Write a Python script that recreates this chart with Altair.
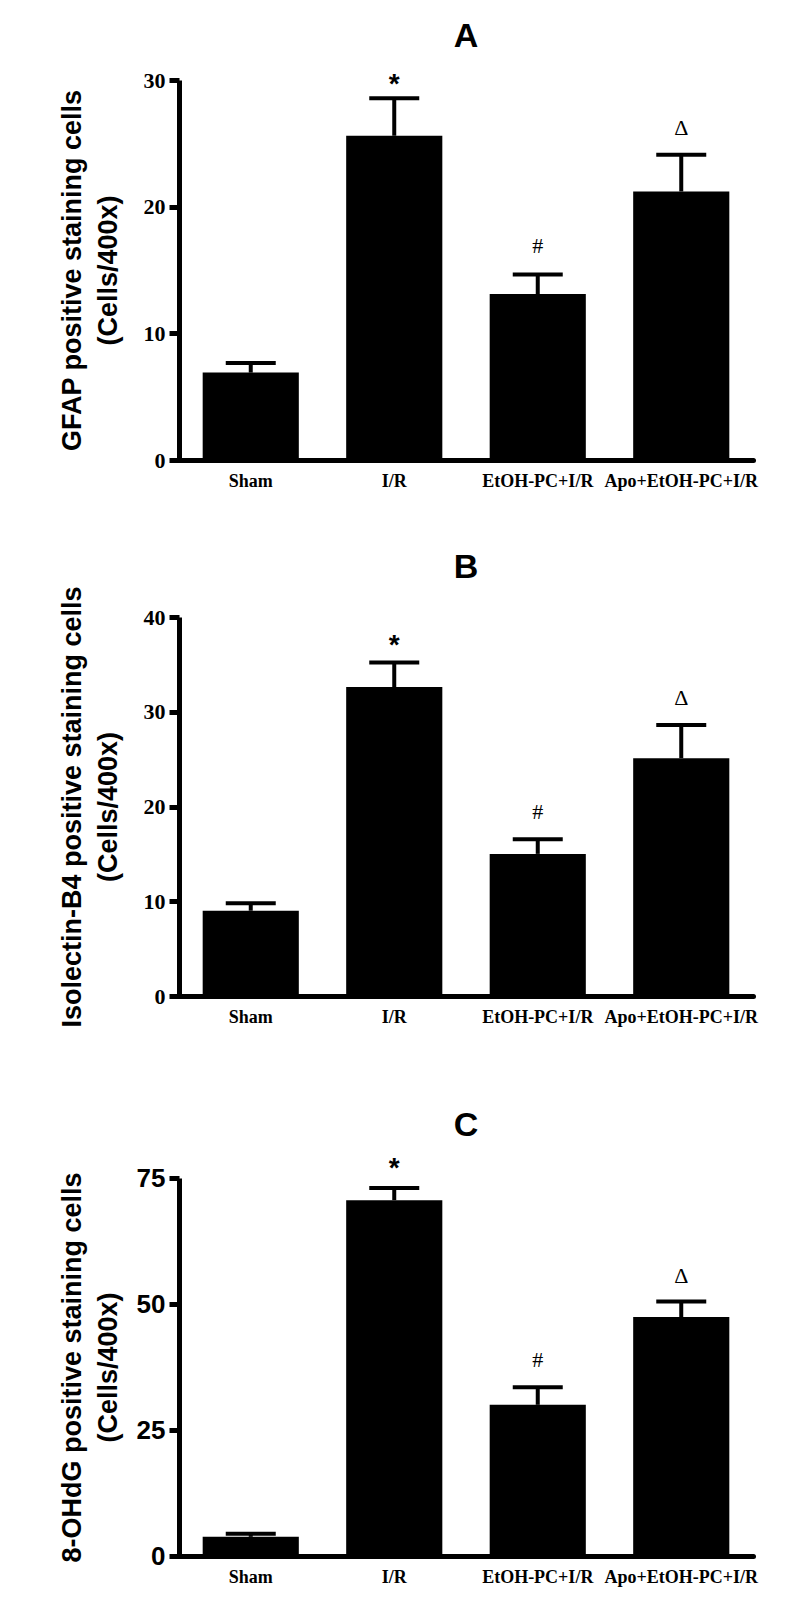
import altair as alt
import pandas as pd

groups = ["Sham", "I/R", "EtOH-PC+I/R", "Apo+EtOH-PC+I/R"]
marks = ["", "*", "#", "Δ"]

a_mean = [6.9, 25.6, 13.1, 21.2]
a_sem = [0.75, 2.95, 1.55, 2.9]
a_mark_y = [None, 29.9, 16.9, 26.2]
a_ticks = [0, 10, 20, 30]

b_mean = [9.0, 32.6, 15.0, 25.1]
b_sem = [0.8, 2.6, 1.55, 3.5]
b_mark_y = [None, 37.4, 19.4, 31.5]
b_ticks = [0, 10, 20, 30, 40]

c_mean = [3.8, 70.6, 30.0, 47.4]
c_sem = [0.6, 2.4, 3.5, 3.1]
c_mark_y = [None, 77.6, 38.9, 55.6]
c_ticks = [0, 25, 50, 75]

SANS = "Liberation Sans"
SERIF = "Liberation Serif"


def panel(letter, mean, sem, mark_y, ticks, ymax, ytitle, tick_font, tick_size,
          title_offset, height):
    df = pd.DataFrame({
        "group": groups,
        "mean": mean,
        "top": [m + s for m, s in zip(mean, sem)],
        "mark": marks,
        "mark_y": mark_y,
    })
    x = alt.X("group:N", sort=groups,
              scale=alt.Scale(paddingInner=0.33, paddingOuter=0.165),
              axis=alt.Axis(title=None, labelAngle=0, ticks=False, tickSize=0,
                            labelPadding=12, labelFont=SERIF, labelFontWeight="bold",
                            labelFontSize=18, labelColor="black", domainColor="black",
                            domainWidth=5, domainCap="round", labelOverlap=False,
                            labelLimit=400))
    yscale = alt.Scale(domain=[0, ymax], nice=False, zero=True)
    yaxis = alt.Axis(values=ticks, title=ytitle, grid=False, domainColor="black",
                     domainWidth=5, tickColor="black", tickWidth=5, tickSize=10,
                     labelFont=tick_font, labelFontWeight="bold", labelFontSize=tick_size,
                     labelColor="black", labelPadding=4,
                     titleFont=SANS, titleFontWeight="bold", titleFontSize=27,
                     titleColor="black", titleLineHeight=36, titleBaseline="alphabetic",
                     titleAngle=270, titleAlign="center", titleX=-99, titleY=height / 2)
    base = alt.Chart(df)
    bars = base.mark_bar(color="black").encode(
        x=x, y=alt.Y("mean:Q", scale=yscale, axis=yaxis))
    err = base.mark_rule(color="black", strokeWidth=4).encode(
        x=alt.X("group:N", sort=groups), y="mean:Q", y2="top:Q")
    cap = base.mark_tick(color="black", thickness=4, size=50, opacity=1).encode(
        x=alt.X("group:N", sort=groups), y="top:Q")
    star = base.transform_filter(alt.datum.mark == "*").mark_text(
        font=SANS, fontWeight="bold", fontSize=28, color="black", baseline="middle",
        dy=4).encode(x=alt.X("group:N", sort=groups), y="mark_y:Q", text="mark:N")
    other = base.transform_filter((alt.datum.mark == "#") | (alt.datum.mark == "Δ")).mark_text(
        font=SERIF, fontSize=22, color="black", baseline="middle").encode(
        x=alt.X("group:N", sort=groups), y="mark_y:Q", text="mark:N")
    return alt.layer(bars, err, cap, star, other).properties(
        width=574, height=height,
        title=alt.TitleParams(letter, font=SANS, fontSize=34, fontWeight="bold",
                              color="black", anchor="middle", frame="group",
                              offset=title_offset))


pa = panel("A", a_mean, a_sem, a_mark_y, a_ticks, 30,
           ["GFAP positive staining cells", "(Cells/400x)"], SERIF, 22, 15, 380)
pb = panel("B", b_mean, b_sem, b_mark_y, b_ticks, 40,
           ["Isolectin-B4 positive staining cells", "(Cells/400x)"], SERIF, 22, 0.5, 379)
pc = panel("C", c_mean, c_sem, c_mark_y, c_ticks, 75,
           ["8-OHdG positive staining cells", "(Cells/400x)"], SANS, 26, 12, 378)

chart = alt.vconcat(alt.vconcat(pa, pb, spacing=61), pc, spacing=80).properties(
    background="white",
    padding={"left": 49, "top": 12, "right": 5, "bottom": 5},
).configure_view(stroke=None, strokeWidth=0)

chart.save("out.html", embed_options={"renderer": "svg", "actions": False})
